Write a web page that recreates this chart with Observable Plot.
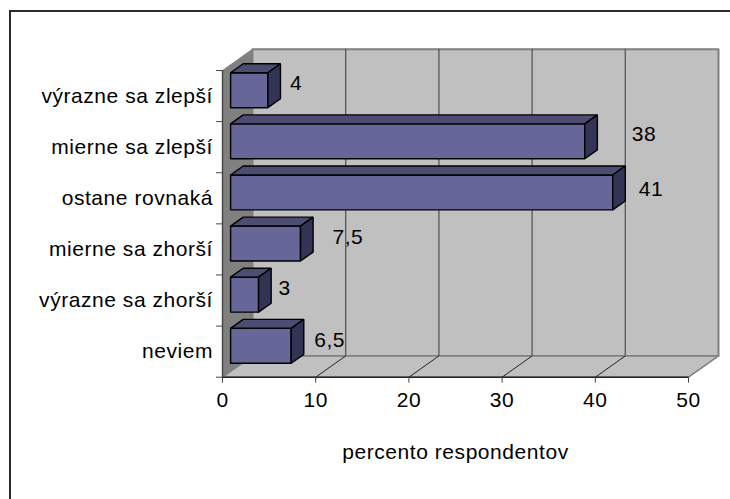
<!DOCTYPE html>
<html>
<head>
<meta charset="utf-8">
<script src="https://cdn.jsdelivr.net/npm/d3@7"></script>
<script src="https://cdn.jsdelivr.net/npm/@observablehq/plot@0.6"></script>
<style>
  html, body { margin: 0; padding: 0; background: #fff; }
  #chart { position: relative; width: 730px; height: 499px; overflow: hidden; }
  #chart svg { display: block; position: absolute; left: 0; top: 0; background: transparent; }
  #frame { position: absolute; left: 9px; top: 10px; width: 740px; height: 510px; border-left: 2px solid #2a2a2a; border-top: 2px solid #2a2a2a; }
</style>
</head>
<body>
<div id="chart"><div id="frame"></div></div>
<script>
const categories = ["výrazne sa zlepší", "mierne sa zlepší", "ostane rovnaká", "mierne sa zhorší", "výrazne sa zhorší", "neviem"];
const values = [4, 38, 41, 7.5, 3, 6.5];
const valueLabels = ["4", "38", "41", "7,5", "3", "6,5"];
const xTicks = [0, 10, 20, 30, 40, 50];
const axisTitle = "percento respondentov";

// label placement relative to the bar end (pixels)
const labelDx = [22, 47, 26, 32, 20, 23];
const labelDy = [13, 13, 17, 13.6, 13.5, 14.4];

// oblique projection: depth 1 = back wall, expressed in data units
const depthX = 30 / 9.32;
const depthY = 21.3 / 51.12;
const px = (v, d) => v + d * depthX;
const py = (r, d) => r - d * depthY;
const pt = (id, v, r, d) => ({id, x: px(v, d), y: py(r, d)});
const poly = (id, corners) => [...corners, corners[0]].map(([v, r, d]) => pt(id, v, r, d));

const barFront = 0.27, barBack = 0.69, barTop = 0.156, barBottom = 0.84;
const rows = categories.map((c, i) => i);

const frontFaces = [], topFaces = [], sideFaces = [];
values.forEach((v, i) => {
  const t = i + barTop, b = i + barBottom;
  frontFaces.push(...poly(i, [[0, t, barFront], [v, t, barFront], [v, b, barFront], [0, b, barFront]]));
  topFaces.push(...poly(i, [[0, t, barFront], [v, t, barFront], [v, t, barBack], [0, t, barBack]]));
  sideFaces.push(...poly(i, [[v, t, barFront], [v, t, barBack], [v, b, barBack], [v, b, barFront]]));
});

const wall = poly("w", [[0, 0, 1], [50, 0, 1], [50, 6, 1], [0, 6, 1]]);
const leftWall = poly("l", [[0, 0, 0], [0, 0, 1], [0, 6, 1], [0, 6, 0]]);
const floor = poly("f", [[0, 6, 0], [50, 6, 0], [50, 6, 1], [0, 6, 1]]);
const gridBack = xTicks.slice(1, -1).flatMap(t => [pt(t, t, 0, 1), pt(t, t, 6, 1)]);
const gridFloor = xTicks.slice(1, -1).flatMap(t => [pt(t, t, 6, 0), pt(t, t, 6, 1)]);

const face = (data, fill) => Plot.line(data, {x: "x", y: "y", z: "id", fill, stroke: "#000", strokeWidth: 1.4, strokeLinejoin: "miter"});

const plot = Plot.plot({
  width: 730,
  height: 499,
  marginLeft: 222,
  marginRight: 42,
  marginTop: 70,
  marginBottom: 122.3,
  x: {domain: [0, 50], range: [222, 688]},
  y: {domain: [0, 6], range: [70, 376.7]},
  style: {fontFamily: "'Liberation Sans', Arial, sans-serif", fontSize: "21px", letterSpacing: "0.55px", color: "#000", background: "transparent", overflow: "visible"},
  marks: [
    Plot.line(wall, {x: "x", y: "y", z: "id", fill: "#c0c0c0", stroke: "#808080", strokeWidth: 2}),
    Plot.line(leftWall, {x: "x", y: "y", z: "id", fill: "#808080", stroke: "#808080", strokeWidth: 1}),
    Plot.line(gridBack, {x: "x", y: "y", z: "id", stroke: "#5f5f5f", strokeWidth: 1.4}),
    Plot.line(floor, {x: "x", y: "y", z: "id", fill: "#c0c0c0", stroke: "#808080", strokeWidth: 1.6}),
    Plot.line(gridFloor, {x: "x", y: "y", z: "id", stroke: "#222", strokeWidth: 1}),
    Plot.ruleY([6], {x1: 0, x2: 50, stroke: "#222", strokeWidth: 1.4}),
    Plot.ruleX([0], {y1: 0, y2: 6, stroke: "#444", strokeWidth: 1.4}),
    Plot.axisX({ticks: xTicks, tickSize: 6, tickPadding: 9, label: axisTitle, labelAnchor: "center", labelArrow: "none", labelOffset: 82, tickFormat: d => String(d), stroke: "#444"}),
    Plot.axisY({ticks: d3.range(0, 7), tickSize: 6, tickFormat: () => "", label: null, stroke: "#444"}),
    Plot.text(rows, {x: 0, y: i => i + 0.5, text: i => categories[i], textAnchor: "end", dx: -9.5, fill: "#000"}),
    face(frontFaces, "#666699"),
    face(topFaces, "#4d4d73"),
    face(sideFaces, "#333355"),
    ...values.map((v, i) => Plot.text([i], {
      x: px(v, barFront),
      y: i,
      text: () => valueLabels[i],
      textAnchor: "start",
      dx: labelDx[i],
      dy: labelDy[i],
      fill: "#000"
    }))
  ]
});
document.getElementById("chart").appendChild(plot);
</script>
</body>
</html>
